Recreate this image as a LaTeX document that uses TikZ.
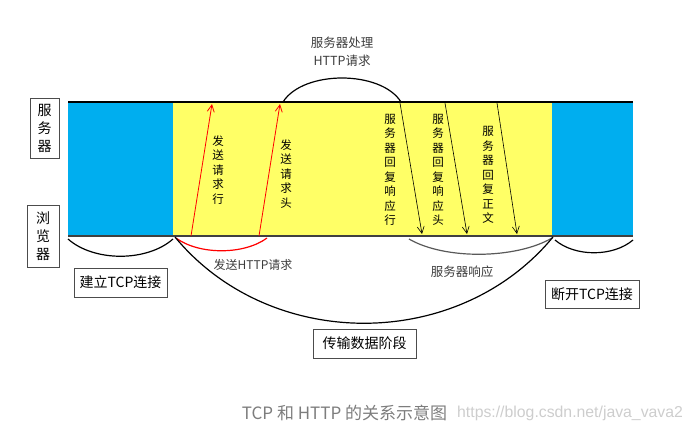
\documentclass[tikz,border=0pt]{standalone}
\usepackage{fontspec}
\setmainfont{Liberation Sans}
\newfontfamily\cjk{Noto Sans CJK SC}
\usetikzlibrary{arrows.meta}
\definecolor{skyb}{RGB}{0,174,239}
\definecolor{yel}{RGB}{255,255,102}
\definecolor{capgray}{RGB}{125,125,125}
\definecolor{wmgray}{RGB}{205,205,205}
\definecolor{lblgray}{RGB}{60,60,60}
\tikzset{
  labelbox/.style={draw=black!70, line width=1pt, inner sep=0pt, font=\cjk\fontsize{14}{18}\selectfont, align=center},
  vtext/.style={font=\cjk\fontsize{11.5}{14.5}\selectfont, align=center, inner sep=0pt},
  note/.style={font=\cjk\fontsize{12.5}{18}\selectfont, text=lblgray, align=center, inner sep=0pt},
  req/.style={draw=red, line width=0.8pt, -{Straight Barb[length=7pt,width=7pt]}},
  resp/.style={draw=black, line width=0.6pt, -{Straight Barb[length=7pt,width=7pt]}},
  phase/.style={draw=black, line width=1.2pt},
}
\begin{document}
\begin{tikzpicture}[x=1pt,y=-1pt]
\useasboundingbox (0,0) rectangle (692,429);
% bands
\fill[skyb] (68,102) rectangle (173,236);
\fill[yel] (173,102) rectangle (552,236);
\fill[skyb] (552,102) rectangle (633,236);
\coordinate (tl) at (68,102); \coordinate (tr) at (633,102);
\coordinate (bl) at (68,236); \coordinate (br) at (633,236);
\draw[line width=1.5pt] (tl) -- (tr);
\draw[line width=2pt, black!75] (bl) -- (br);
% side labels
\node[labelbox, minimum width=29, minimum height=60] (server) at (44.5,128) {服\\务\\器};
\node[labelbox, minimum width=32, minimum height=62] (browser) at (43,236) {浏\\览\\器};
% request arrows
\coordinate (r1s) at (191,236); \coordinate (r1e) at (212,104);
\coordinate (r2s) at (259,236); \coordinate (r2e) at (280,104);
\draw[req] (r1s) -- (r1e);
\draw[req] (r2s) -- (r2e);
\node[vtext] (reqline) at (218,170) {发\\送\\请\\求\\行};
\node[vtext] (reqhead) at (286,174) {发\\送\\请\\求\\头};
% response arrows
\coordinate (s1s) at (400,103); \coordinate (s1e) at (422,234);
\coordinate (s2s) at (445,103); \coordinate (s2e) at (467,234);
\coordinate (s3s) at (497,103); \coordinate (s3e) at (517,234);
\draw[resp] (s1s) -- (s1e);
\draw[resp] (s2s) -- (s2e);
\draw[resp] (s3s) -- (s3e);
\node[vtext] (respline) at (390,170) {服\\务\\器\\回\\复\\响\\应\\行};
\node[vtext] (resphead) at (438,170) {服\\务\\器\\回\\复\\响\\应\\头};
\node[vtext] (respbody) at (488,175) {服\\务\\器\\回\\复\\正\\文};
% server processing arc
\coordinate (p1) at (283,102); \coordinate (p2) at (401,102);
\draw[phase] (p1) .. controls +(20,-32) and +(-20,-32) .. (p2);
\node[note] (proc) at (342,52) {服务器处理\\HTTP请求};
% lower arcs
\coordinate (a1) at (68,239); \coordinate (a2) at (173,239);
\draw[phase] (a1) .. controls +(26,23) and +(-26,23) .. (a2);
\coordinate (q1) at (176,238); \coordinate (q2) at (267,238);
\draw[red, line width=1.2pt] (q1) .. controls +(23,17) and +(-23,17) .. (q2);
\coordinate (g1) at (409,239); \coordinate (g2) at (552,238);
\draw[black!65, line width=1.2pt] (g1) .. controls +(36,21) and +(-36,21) .. (g2);
\coordinate (c1) at (555,240); \coordinate (c2) at (633,240);
\draw[phase] (c1) .. controls +(20,17) and +(-20,17) .. (c2);
\coordinate (b1) at (175,237); \coordinate (b2) at (553,237);
\draw[phase] (b1) .. controls +(95,115) and +(-95,115) .. (b2);
% lower labels
\node[note, font=\cjk\fontsize{12}{14}\selectfont] (sendreq) at (253,265) {发送HTTP请求};
\node[note] (servresp) at (462,272) {服务器响应};
\node[labelbox, minimum width=93, minimum height=29] (open) at (120.5,282.5) {建立TCP连接};
\node[labelbox, minimum width=94, minimum height=28] (close) at (592,294) {断开TCP连接};
\node[labelbox, minimum width=103, minimum height=29] (transfer) at (364.5,343.5) {传输数据阶段};
% caption
\node[font=\cjk\fontsize{17}{19}\selectfont, text=capgray, inner sep=0pt] (cap) at (344.5,413) {TCP 和 HTTP 的关系示意图};
\node[font=\fontsize{15.8}{18}\selectfont, text=wmgray, anchor=west, inner sep=0pt] (wm) at (457,413) {https://blog.csdn.net/java\_vava2};
\end{tikzpicture}
\end{document}
